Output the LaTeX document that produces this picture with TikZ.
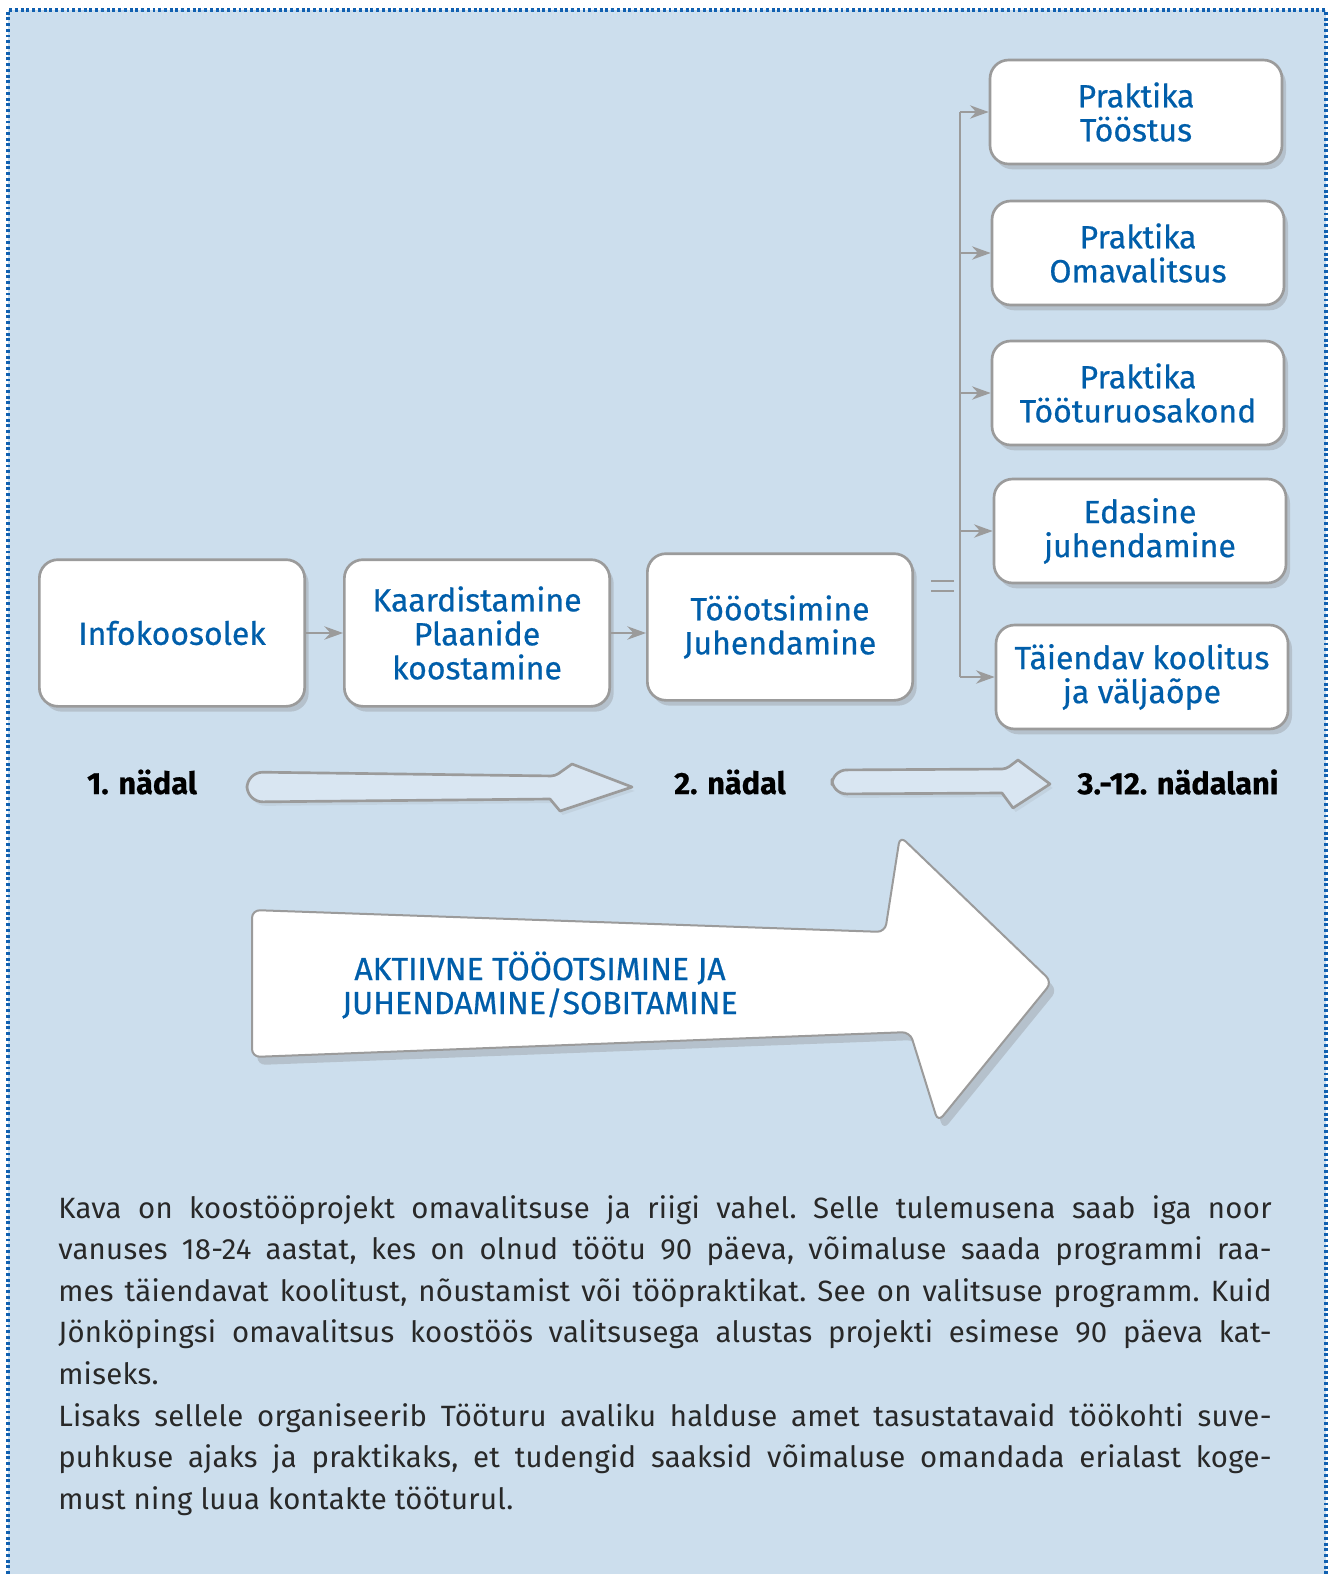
\documentclass[tikz,border=0pt]{standalone}
\usepackage{fontspec}
\setmainfont{Fira Sans}
\newfontfamily\dinfont[FakeBold=0.6]{Fira Sans}
\newfontfamily\bodyfont[LetterSpace=1]{Fira Sans}
\usetikzlibrary{shadows, arrows.meta, positioning, calc}
\definecolor{my_bg}{RGB}{204, 222, 237}
\definecolor{my_blue}{RGB}{0, 94, 170}
\definecolor{my_dots}{RGB}{16, 96, 176}
\definecolor{my_gray}{RGB}{155, 155, 155}
\definecolor{my_text}{RGB}{40, 40, 40}
\tikzset {
  box/.style = {draw=my_gray, line width=2pt, fill=white, rounded corners=14pt, rectangle, align=center, text=my_blue, font=\dinfont\fontsize{24}{25.5}\selectfont, drop shadow={shadow xshift=3pt, shadow yshift=-4pt, opacity=0.3, fill=black!50}},
  rowbox/.style = {box, minimum width=199pt, minimum height=110pt},
  colbox/.style = {box, minimum width=219pt, minimum height=78pt},
  line/.style = {-{Stealth[length=14pt, width=10pt]}, draw=my_gray, line width=1.5pt},
  barline/.style = {draw=my_gray, line width=1.5pt},
  week/.style = {font=\dinfont\bfseries\fontsize{23}{25}\selectfont, text=black},
  weekarrow/.style = {draw=my_gray, line width=2pt, fill=white!25!my_bg, line join=round, drop shadow={shadow xshift=2pt, shadow yshift=-3pt, opacity=0.12, fill=black!50}},
  bigarrow/.style = {draw=my_gray, line width=1.5pt, fill=white, rounded corners=6pt, drop shadow={shadow xshift=4pt, shadow yshift=-6pt, opacity=0.3, fill=black!50}}
}

\begin{document}
\begin{tikzpicture}[x=0.75pt, y=-0.75pt]
    \useasboundingbox (0,0) rectangle (1333,1574);
    % background and dotted frame
    \fill[my_bg] (8,10) rectangle (1326,1574);
    \draw[my_dots, line width=2.4pt, dash pattern=on 2.2pt off 2.1pt] (8,1574) -- (8,10) -- (1326,10) -- (1326,1574);

    \node[rowbox, name=info] (info) at (172,633) {Infokoosolek};
    \node[rowbox, name=kaard] (kaard) at (477,633) {Kaardistamine\\Plaanide\\koostamine};
    \node[rowbox, name=otsi] (otsi) at (780,627) {Tööotsimine\\Juhendamine};

    \node[colbox, name=tootus] (tootus) at (1136,112) {Praktika\\Tööstus};
    \node[colbox, name=omav] (omav) at (1138,253) {Praktika\\Omavalitsus};
    \node[colbox, name=turu] (turu) at (1138,393) {Praktika\\Tööturuosakond};
    \node[colbox, name=edasi] (edasi) at (1140,531) {Edasine\\juhendamine};
    \node[colbox, name=koolitus] (koolitus) at (1142,677) {Täiendav koolitus\\ja väljaõpe};

    \draw[line] (info.east) -- (kaard.west);
    \draw[line] (kaard.east) -- (kaard.east -| otsi.west);

    \coordinate (bartop) at (960,112);
    \coordinate (barbot) at (960,677);
    \draw[barline] (bartop) -- (barbot);
    \foreach \b in {tootus, omav, turu, edasi, koolitus}
        \draw[line] (bartop |- \b.west) -- (\b.west);
    \draw[draw=my_gray, line width=1.5pt] ($(otsi.east)+(17,-46)$) -- ++(23,0);
    \draw[draw=my_gray, line width=1.5pt] ($(otsi.east)+(17,-36)$) -- ++(23,0);

    % weeks
    \node[week, name=w1] (w1) at (142,782) {1. nädal};
    \node[week, name=w2] (w2) at (730,782) {2. nädal};
    \node[week, name=w3] (w3) at (1178,782) {3.-12. nädalani};
    \draw[weekarrow] (555,776) -- (572,764) -- (632,787) -- (560,811) -- (550,799) [rounded corners=12pt] -- (247,802) -- (247,772) [rounded corners=3pt] -- cycle;
    \draw[weekarrow] (1006,769) -- (1018,760) -- (1050,784) -- (1013,808) -- (1002,793) [rounded corners=11pt] -- (832,794) -- (832,770) [rounded corners=3pt] -- cycle;

    % big arrow
    \draw[bigarrow] (252,910) -- (885,932) -- (900,836) -- (1052,982) -- (938,1122) -- (910,1032) -- (252,1057) -- cycle;
    \node[font=\dinfont\fontsize{24}{25.5}\selectfont, text=my_blue, align=center, name=aktiiv] (aktiiv) at (540,985) {AKTIIVNE TÖÖOTSIMINE JA\\JUHENDAMINE/SOBITAMINE};

    % description
    \node[anchor=north west, inner sep=0pt, text=my_text, name=kava] (kava) at (58,1195) {\parbox{910pt}{\bodyfont\fontsize{22}{31.2}\selectfont\parindent=0pt\frenchspacing
      Kava on koostööprojekt omavalitsuse ja riigi vahel. Selle tulemusena saab iga noor\linebreak
      vanuses 18-24 aastat, kes on olnud töötu 90 päeva, võimaluse saada programmi raa-\linebreak
      mes täiendavat koolitust, nõustamist või tööpraktikat. See on valitsuse programm. Kuid\linebreak
      Jönköpingsi omavalitsus koostöös valitsusega alustas projekti esimese 90 päeva kat-\linebreak
      miseks.\par
      Lisaks sellele organiseerib Tööturu avaliku halduse amet tasustatavaid töökohti suve-\linebreak
      puhkuse ajaks ja praktikaks, et tudengid saaksid võimaluse omandada erialast koge-\linebreak
      must ning luua kontakte tööturul.}};
\end{tikzpicture}
\end{document}
